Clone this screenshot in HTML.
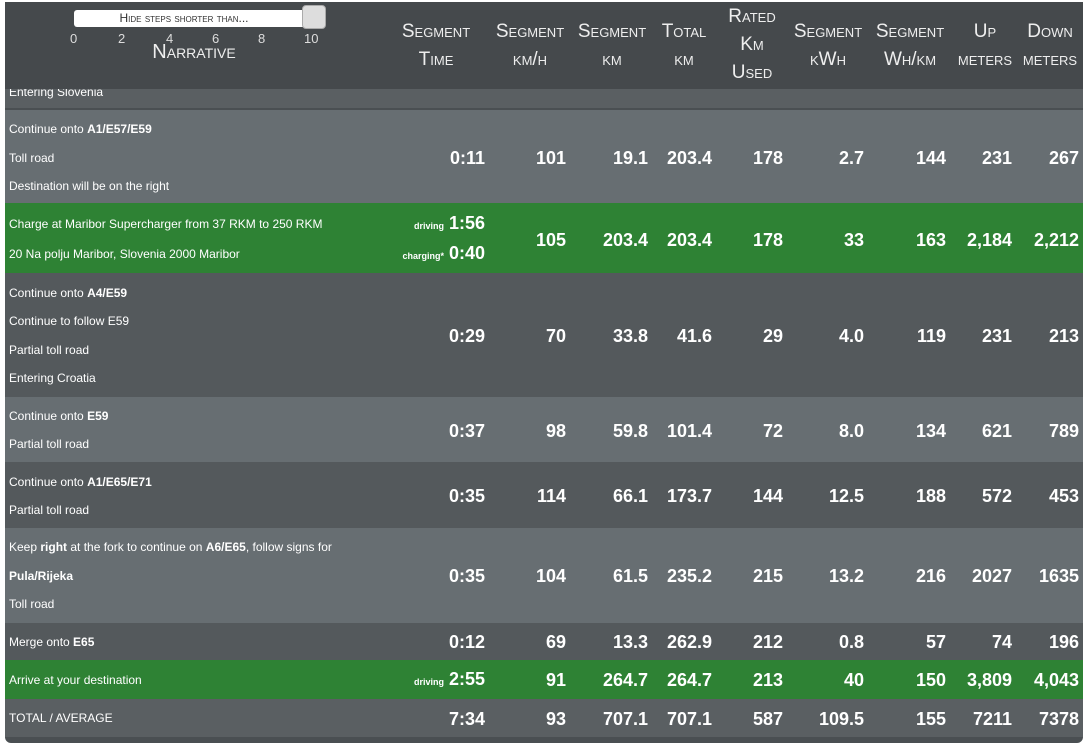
<!DOCTYPE html>
<html><head><meta charset="utf-8"><style>
*{margin:0;padding:0;box-sizing:border-box}
body{width:1085px;height:747px;background:#fff;position:relative;overflow:hidden;font-family:"Liberation Sans",sans-serif;color:#fff}
.a{position:absolute}
.hd{font-variant:small-caps;font-size:19px;color:#eee;text-align:center;line-height:28px;white-space:nowrap}
.row{position:absolute;left:5px;width:1078px}
.n{position:absolute;font-size:12px;left:4px;white-space:nowrap}
.v{position:absolute;font-size:18px;font-weight:bold;text-align:right;width:90px}
.s{font-size:9px;font-weight:bold}
</style></head><body>
<div class="a" style="left:5px;top:2px;width:1078px;height:741px;background:#4a4f52;border-radius:0 0 6px 6px"></div>
<div class="a" style="left:5px;top:2px;width:1078px;height:87px;background:#45494c"></div>
<div class="a" style="left:74px;top:10px;width:240px;height:17px;background:#fff;border-radius:3px;color:#333;font-size:12px;font-variant:small-caps;text-align:center;line-height:17px;padding-right:20px">Hide steps shorter than...</div>
<div class="a" style="left:302px;top:5px;width:24px;height:24px;background:#ddd;border:1px solid #aaa;border-radius:4px"></div>
<div class="a" style="left:70px;top:31px;font-size:13px;color:#ddd"><span style="position:absolute;left:0">0</span><span style="position:absolute;left:48px">2</span><span style="position:absolute;left:96px">4</span><span style="position:absolute;left:142px">6</span><span style="position:absolute;left:188px">8</span><span style="position:absolute;left:234px">10</span></div>
<div class="a hd" style="left:134px;top:39px;width:120px;font-size:20px;line-height:26px">Narrative</div>
<div class="a hd" style="left:386px;top:18px;width:100px">Segment<br>Time</div>
<div class="a hd" style="left:488px;top:18px;width:84px">Segment<br>km/h</div>
<div class="a hd" style="left:570px;top:18px;width:84px">Segment<br>km</div>
<div class="a hd" style="left:652px;top:18px;width:64px">Total<br>km</div>
<div class="a hd" style="left:716px;top:3px;width:72px">Rated<br>Km<br>Used</div>
<div class="a hd" style="left:786px;top:18px;width:84px">Segment<br>kWh</div>
<div class="a hd" style="left:868px;top:18px;width:84px">Segment<br>Wh/km</div>
<div class="a hd" style="left:950px;top:18px;width:70px">Up<br>meters</div>
<div class="a hd" style="left:1016px;top:18px;width:68px">Down<br>meters</div>

<div class="row" style="top:89px;height:19px;background:#5a5f62;overflow:hidden"><div class="n" style="top:-4px">Entering Slovenia</div></div>

<div class="row" style="top:110px;height:93px;background:#676e72">
<div class="n" style="top:12px">Continue onto <b>A1/E57/E59</b></div>
<div class="n" style="top:41px">Toll road</div>
<div class="n" style="top:69px">Destination will be on the right</div>
</div>
<div class="row" style="top:203px;height:70px;background:#2e8234">
<div class="n" style="top:14px">Charge at Maribor Supercharger from 37 RKM to 250 RKM</div>
<div class="n" style="top:44px">20 Na polju Maribor, Slovenia 2000 Maribor</div>
<div class="a" style="right:598px;top:10px;font-size:18px;font-weight:bold;white-space:nowrap"><span class="s">driving</span> 1:56</div>
<div class="a" style="right:598px;top:40px;font-size:18px;font-weight:bold;white-space:nowrap"><span class="s">charging*</span> 0:40</div>
</div>
<div class="row" style="top:273px;height:124px;background:#54595c">
<div class="n" style="top:13px">Continue onto <b>A4/E59</b></div>
<div class="n" style="top:41px">Continue to follow E59</div>
<div class="n" style="top:70px">Partial toll road</div>
<div class="n" style="top:98px">Entering Croatia</div>
</div>
<div class="row" style="top:397px;height:65px;background:#676e72">
<div class="n" style="top:12px">Continue onto <b>E59</b></div>
<div class="n" style="top:40px">Partial toll road</div>
</div>
<div class="row" style="top:462px;height:66px;background:#54595c">
<div class="n" style="top:13px">Continue onto <b>A1/E65/E71</b></div>
<div class="n" style="top:41px">Partial toll road</div>
</div>
<div class="row" style="top:528px;height:95px;background:#676e72">
<div class="n" style="top:12px">Keep <b>right</b> at the fork to continue on <b>A6/E65</b>, follow signs for</div>
<div class="n" style="top:41px"><b>Pula/Rijeka</b></div>
<div class="n" style="top:69px">Toll road</div>
</div>
<div class="row" style="top:623px;height:37px;background:#54595c"><div class="n" style="top:12px">Merge onto <b>E65</b></div></div>
<div class="row" style="top:660px;height:39px;background:#2e8234"><div class="n" style="top:13px">Arrive at your destination</div>
<div class="a" style="right:598px;top:9px;font-size:18px;font-weight:bold;white-space:nowrap"><span class="s">driving</span> 2:55</div></div>
<div class="row" style="top:699px;height:38px;background:#5a5f62"><div class="n" style="top:12px">TOTAL / AVERAGE</div></div>

<div id="vals"></div>
<script>
var cols=[485,566,648,712,783,864,946,1012,1079];
var rows=[
[148,["0:11","101","19.1","203.4","178","2.7","144","231","267"]],
[230,[null,"105","203.4","203.4","178","33","163","2,184","2,212"]],
[326,["0:29","70","33.8","41.6","29","4.0","119","231","213"]],
[421,["0:37","98","59.8","101.4","72","8.0","134","621","789"]],
[486,["0:35","114","66.1","173.7","144","12.5","188","572","453"]],
[566,["0:35","104","61.5","235.2","215","13.2","216","2027","1635"]],
[632,["0:12","69","13.3","262.9","212","0.8","57","74","196"]],
[670,[null,"91","264.7","264.7","213","40","150","3,809","4,043"]],
[709,["7:34","93","707.1","707.1","587","109.5","155","7211","7378"]]];
var h="";
rows.forEach(function(r){r[1].forEach(function(t,i){if(t==null)return;
h+='<div class="v" style="top:'+r[0]+'px;left:'+(cols[i]-90)+'px">'+t+'</div>';});});
document.getElementById("vals").innerHTML=h;
</script>
</body></html>
